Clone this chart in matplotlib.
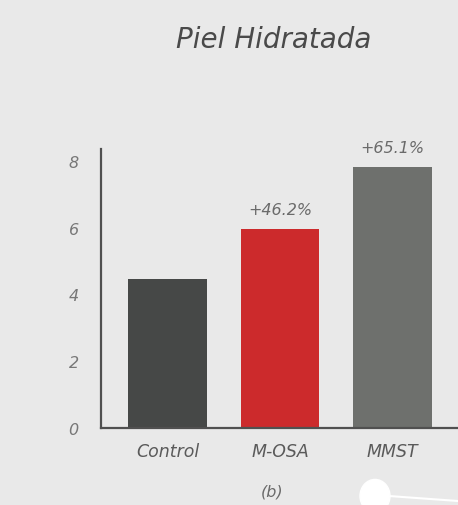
import matplotlib
matplotlib.use("Agg")
import matplotlib.pyplot as plt
from matplotlib.patches import Circle
from matplotlib.lines import Line2D

categories = ["Control", "M-OSA", "MMST"]
values = [4.46, 5.96, 7.81]
labels = ["", "+46.2%", "+65.1%"]
colors = ["#464847", "#cc2a2c", "#6e706d"]
yticks = [0, 2, 4, 6, 8]

bg = "#e9e9e9"
fig = plt.figure(figsize=(4.58, 5.06), dpi=100, facecolor=bg)
ax = fig.add_axes([101/458, 1-429/506, 1-101/458, (429-150)/506])
ax.set_facecolor(bg)

x = list(range(len(categories)))
bars = ax.bar(x, values, width=0.70, color=colors, zorder=2)
for b, lab in zip(bars, labels):
    if lab:
        ax.text(b.get_x() + b.get_width()/2, b.get_height() + 0.35, lab,
                ha="center", va="bottom", fontsize=11.5, style="italic",
                color="#6a6a6a")

ax.set_xlim(-0.59, 2.58)
ax.set_ylim(0, 8.35)
ax.set_xticks(x)
ax.set_xticklabels(categories, fontsize=12.5, style="italic", color="#5a5a5a")
ax.set_yticks(yticks)
ax.set_yticklabels([str(t) for t in yticks], fontsize=11.5, style="italic", color="#777777")
ax.tick_params(axis="x", length=0, pad=10)
ax.tick_params(axis="y", length=0, pad=16)
for s in ["top", "right"]:
    ax.spines[s].set_visible(False)
for s in ["left", "bottom"]:
    ax.spines[s].set_color("#505050")
    ax.spines[s].set_linewidth(1.6)

fig.text(274/458, 1-40/506, "Piel Hidratada", ha="center", va="center",
         fontsize=20, style="italic", color="#4a4a4a")
fig.text(272/458, 1-492/506, "(b)", ha="center", va="center",
         fontsize=11.5, style="italic", color="#6a6a6a")

# decorative white marker at bottom
fig.add_artist(Line2D([375/458, 1.0], [1-496/506, 1-502/506], color="white",
                      lw=1.5, transform=fig.transFigure))
fig.add_artist(Circle((375/458, 1-497/506), 15/458, color="white",
                      transform=fig.transFigure))

fig.savefig("out.png", dpi=100, facecolor=bg)
